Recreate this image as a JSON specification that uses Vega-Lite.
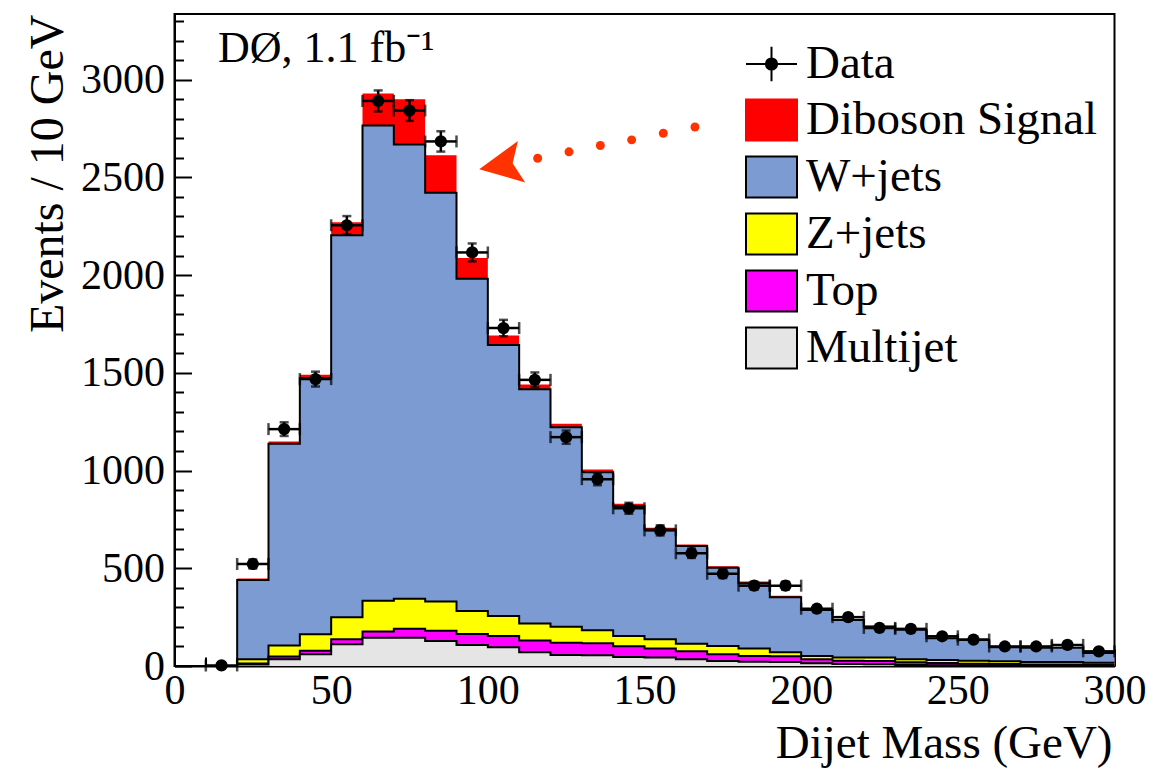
{
  "$schema": "https://vega.github.io/schema/vega-lite/v6.json",
  "width": 940,
  "height": 652,
  "autosize": "none",
  "padding": {"left": 174.5, "top": 14, "right": 58.5, "bottom": 103},
  "background": "white",
  "config": {
    "view": {"stroke": "black", "strokeWidth": 2},
    "font": "Liberation Serif"
  },
  "resolve": {"axis": {"x": "independent", "y": "independent"}},
  "datasets": {
    "hist": [
      {"o": 0, "x": 20, "sig": 0, "w": 0, "z": 0, "top": 0, "mj": 0},
      {"o": 1, "x": 20, "sig": 448, "w": 440, "z": 35, "top": 13, "mj": 8},
      {"o": 2, "x": 30, "sig": 1149, "w": 1137, "z": 105, "top": 48, "mj": 35},
      {"o": 3, "x": 40, "sig": 1490, "w": 1472, "z": 163, "top": 78, "mj": 60},
      {"o": 4, "x": 50, "sig": 2270, "w": 2204, "z": 250, "top": 137, "mj": 111},
      {"o": 5, "x": 60, "sig": 2929, "w": 2765, "z": 334, "top": 176, "mj": 145},
      {"o": 6, "x": 70, "sig": 2900, "w": 2668, "z": 344, "top": 190, "mj": 145},
      {"o": 7, "x": 80, "sig": 2613, "w": 2421, "z": 330, "top": 181, "mj": 128},
      {"o": 8, "x": 90, "sig": 2088, "w": 1982, "z": 282, "top": 164, "mj": 108},
      {"o": 9, "x": 100, "sig": 1691, "w": 1642, "z": 256, "top": 154, "mj": 96},
      {"o": 10, "x": 110, "sig": 1440, "w": 1416, "z": 218, "top": 130, "mj": 70},
      {"o": 11, "x": 120, "sig": 1239, "w": 1221, "z": 201, "top": 119, "mj": 56},
      {"o": 12, "x": 130, "sig": 1005, "w": 991, "z": 183, "top": 116, "mj": 55},
      {"o": 13, "x": 140, "sig": 830, "w": 819, "z": 154, "top": 101, "mj": 46},
      {"o": 14, "x": 150, "sig": 707, "w": 699, "z": 137, "top": 89, "mj": 43},
      {"o": 15, "x": 160, "sig": 622, "w": 614, "z": 114, "top": 75, "mj": 34},
      {"o": 16, "x": 170, "sig": 510, "w": 503, "z": 102, "top": 60, "mj": 26},
      {"o": 17, "x": 180, "sig": 432, "w": 424, "z": 89, "top": 51, "mj": 22},
      {"o": 18, "x": 190, "sig": 360, "w": 352, "z": 70, "top": 50, "mj": 20},
      {"o": 19, "x": 200, "sig": 291, "w": 287, "z": 51, "top": 34, "mj": 14},
      {"o": 20, "x": 210, "sig": 239, "w": 236, "z": 44, "top": 27, "mj": 10},
      {"o": 21, "x": 220, "sig": 206, "w": 202, "z": 43, "top": 26, "mj": 9},
      {"o": 22, "x": 230, "sig": 187, "w": 185, "z": 34, "top": 19, "mj": 5},
      {"o": 23, "x": 240, "sig": 144, "w": 142, "z": 31, "top": 15, "mj": 4},
      {"o": 24, "x": 250, "sig": 135, "w": 133, "z": 27, "top": 12, "mj": 4},
      {"o": 25, "x": 260, "sig": 98, "w": 96, "z": 24, "top": 10, "mj": 3},
      {"o": 26, "x": 270, "sig": 96, "w": 94, "z": 20, "top": 8, "mj": 3},
      {"o": 27, "x": 280, "sig": 96, "w": 94, "z": 20, "top": 8, "mj": 2},
      {"o": 28, "x": 290, "sig": 68, "w": 66, "z": 17, "top": 6, "mj": 2},
      {"o": 29, "x": 300, "sig": 68, "w": 66, "z": 17, "top": 6, "mj": 2}
    ],
    "pts": [
      {"xc": 15, "x0": 10, "x1": 20, "d": 3, "lo": 1, "hi": 5},
      {"xc": 25, "x0": 20, "x1": 30, "d": 522, "lo": 499, "hi": 545},
      {"xc": 35, "x0": 30, "x1": 40, "d": 1212, "lo": 1177, "hi": 1247},
      {"xc": 45, "x0": 40, "x1": 50, "d": 1468, "lo": 1430, "hi": 1506},
      {"xc": 55, "x0": 50, "x1": 60, "d": 2255, "lo": 2208, "hi": 2302},
      {"xc": 65, "x0": 60, "x1": 70, "d": 2891, "lo": 2837, "hi": 2945},
      {"xc": 75, "x0": 70, "x1": 80, "d": 2842, "lo": 2789, "hi": 2895},
      {"xc": 85, "x0": 80, "x1": 90, "d": 2684, "lo": 2632, "hi": 2736},
      {"xc": 95, "x0": 90, "x1": 100, "d": 2116, "lo": 2070, "hi": 2162},
      {"xc": 105, "x0": 100, "x1": 110, "d": 1729, "lo": 1687, "hi": 1771},
      {"xc": 115, "x0": 110, "x1": 120, "d": 1464, "lo": 1426, "hi": 1502},
      {"xc": 125, "x0": 120, "x1": 130, "d": 1171, "lo": 1137, "hi": 1205},
      {"xc": 135, "x0": 130, "x1": 140, "d": 956, "lo": 925, "hi": 987},
      {"xc": 145, "x0": 140, "x1": 150, "d": 807, "lo": 779, "hi": 835},
      {"xc": 155, "x0": 150, "x1": 160, "d": 694, "lo": 668, "hi": 720},
      {"xc": 165, "x0": 160, "x1": 170, "d": 577, "lo": 553, "hi": 601},
      {"xc": 175, "x0": 170, "x1": 180, "d": 472, "lo": 450, "hi": 494},
      {"xc": 185, "x0": 180, "x1": 190, "d": 411, "lo": 391, "hi": 431},
      {"xc": 195, "x0": 190, "x1": 200, "d": 411, "lo": 391, "hi": 431},
      {"xc": 205, "x0": 200, "x1": 210, "d": 293, "lo": 276, "hi": 310},
      {"xc": 215, "x0": 210, "x1": 220, "d": 250, "lo": 234, "hi": 266},
      {"xc": 225, "x0": 220, "x1": 230, "d": 195, "lo": 181, "hi": 209},
      {"xc": 235, "x0": 230, "x1": 240, "d": 190, "lo": 176, "hi": 204},
      {"xc": 245, "x0": 240, "x1": 250, "d": 152, "lo": 140, "hi": 164},
      {"xc": 255, "x0": 250, "x1": 260, "d": 135, "lo": 123, "hi": 147},
      {"xc": 265, "x0": 260, "x1": 270, "d": 100, "lo": 90, "hi": 110},
      {"xc": 275, "x0": 270, "x1": 280, "d": 100, "lo": 90, "hi": 110},
      {"xc": 285, "x0": 280, "x1": 290, "d": 108, "lo": 98, "hi": 118},
      {"xc": 295, "x0": 290, "x1": 300, "d": 75, "lo": 66, "hi": 84}
    ],
    "dots": [
      {"ax": 115.9, "ay": 2598},
      {"ax": 125.9, "ay": 2631},
      {"ax": 135.9, "ay": 2663},
      {"ax": 145.9, "ay": 2692},
      {"ax": 156.0, "ay": 2726},
      {"ax": 166.1, "ay": 2758}
    ],
    "head": [
      {"ax": 104.0, "ay": 2561}
    ],
    "label": [
      {"ax": 13.9, "ay": 3091, "t": "DØ, 1.1 fb⁻¹"}
    ]
  },
  "layer": [
    {
      "data": {"name": "hist"},
      "mark": {"type": "area", "interpolate": "step-after", "opacity": 1},
      "encoding": {
        "x": {
          "field": "x", "type": "quantitative", "title": "Dijet Mass (GeV)",
          "scale": {"domain": [0, 300], "nice": false, "zero": false},
          "axis": {
            "orient": "bottom",
            "values": [0, 50, 100, 150, 200, 250, 300],
            "format": "d",
            "tickSize": -17,
            "labelPadding": 21,
            "labelFontSize": 42,
            "labelFont": "Liberation Serif",
            "labelColor": "black",
            "labelFlush": false,
            "labelOverlap": false,
            "grid": false,
            "domainColor": "black",
            "domainWidth": 2,
            "tickColor": "black",
            "tickWidth": 2,
            "titleFont": "Liberation Serif",
            "titleFontSize": 47,
            "titleFontWeight": "normal",
            "titleColor": "black",
            "titleAnchor": "end",
            "titleAlign": "right",
            "titleBaseline": "alphabetic",
            "titleX": 937.5,
            "titleY": 91
          }
        },
        "y": {
          "field": "sig", "type": "quantitative", "stack": null, "title": "Events / 10 GeV",
          "scale": {"domain": [0, 3336], "nice": false},
          "axis": {
            "orient": "left",
            "values": [0, 500, 1000, 1500, 2000, 2500, 3000],
            "format": "d",
            "tickSize": -17,
            "labelPadding": 27,
            "labelFontSize": 42,
            "labelFont": "Liberation Serif",
            "labelColor": "black",
            "labelFlush": false,
            "labelOverlap": false,
            "grid": false,
            "domainColor": "black",
            "domainWidth": 2,
            "tickColor": "black",
            "tickWidth": 2,
            "titleFont": "Liberation Serif",
            "titleFontSize": 48,
            "titleFontWeight": "normal",
            "titleColor": "black",
            "titleAngle": -90,
            "titleAnchor": "end",
            "titleAlign": "right",
            "titleBaseline": "alphabetic",
            "titleX": -112,
            "titleY": 0
          }
        },
        "color": {
          "datum": "Diboson Signal", "type": "nominal",
          "scale": {
            "domain": ["Data", "Diboson Signal", "W+jets", "Z+jets", "Top", "Multijet"],
            "range": ["#000000", "#ff0000", "#7b9bd2", "#ffff00", "#ff00ff", "#e5e5e5"]
          },
          "legend": {
            "orient": "none",
            "legendX": 570.5,
            "legendY": 23.5,
            "title": null,
            "padding": 0,
            "symbolSize": 2601,
            "symbolStrokeWidth": 2,
            "symbolOpacity": 1,
            "labelFont": "Liberation Serif",
            "labelFontSize": 47,
            "labelColor": "black",
            "labelOffset": 8,
            "labelLimit": 0,
            "rowPadding": 6,
            "encode": {
              "symbols": {
                "update": {
                  "shape": {"signal": "datum.value === 'Data' ? 'M-1,0H1M0,-0.68V0.68M0.22,0A0.22,0.22 0 1 1 -0.22,0A0.22,0.22 0 1 1 0.22,0Z' : 'M-1,-0.8H1V0.8H-1Z'"},
                  "stroke": {"signal": "datum.value === 'Diboson Signal' ? '#ff0000' : '#000000'"},
                  "strokeWidth": {"value": 2},
                  "opacity": {"value": 1}
                }
              }
            }
          }
        }
      }
    },
    {
      "data": {"name": "hist"},
      "mark": {"type": "area", "interpolate": "step-after", "opacity": 1},
      "encoding": {
        "x": {"field": "x", "type": "quantitative", "axis": null},
        "y": {"field": "w", "type": "quantitative", "stack": null, "axis": null},
        "color": {"datum": "W+jets", "type": "nominal"}
      }
    },
    {
      "data": {"name": "hist"},
      "mark": {"type": "line", "interpolate": "step-after", "color": "black", "strokeWidth": 2},
      "encoding": {
        "x": {"field": "x", "type": "quantitative", "axis": null},
        "y": {"field": "w", "type": "quantitative", "axis": null},
        "order": {"field": "o", "type": "quantitative"}
      }
    },
    {
      "data": {"name": "hist"},
      "mark": {"type": "area", "interpolate": "step-after", "opacity": 1},
      "encoding": {
        "x": {"field": "x", "type": "quantitative", "axis": null},
        "y": {"field": "z", "type": "quantitative", "stack": null, "axis": null},
        "color": {"datum": "Z+jets", "type": "nominal"}
      }
    },
    {
      "data": {"name": "hist"},
      "mark": {"type": "line", "interpolate": "step-after", "color": "black", "strokeWidth": 2},
      "encoding": {
        "x": {"field": "x", "type": "quantitative", "axis": null},
        "y": {"field": "z", "type": "quantitative", "axis": null},
        "order": {"field": "o", "type": "quantitative"}
      }
    },
    {
      "data": {"name": "hist"},
      "mark": {"type": "area", "interpolate": "step-after", "opacity": 1},
      "encoding": {
        "x": {"field": "x", "type": "quantitative", "axis": null},
        "y": {"field": "top", "type": "quantitative", "stack": null, "axis": null},
        "color": {"datum": "Top", "type": "nominal"}
      }
    },
    {
      "data": {"name": "hist"},
      "mark": {"type": "line", "interpolate": "step-after", "color": "black", "strokeWidth": 2},
      "encoding": {
        "x": {"field": "x", "type": "quantitative", "axis": null},
        "y": {"field": "top", "type": "quantitative", "axis": null},
        "order": {"field": "o", "type": "quantitative"}
      }
    },
    {
      "data": {"name": "hist"},
      "mark": {"type": "area", "interpolate": "step-after", "opacity": 1},
      "encoding": {
        "x": {"field": "x", "type": "quantitative", "axis": null},
        "y": {"field": "mj", "type": "quantitative", "stack": null, "axis": null},
        "color": {"datum": "Multijet", "type": "nominal"}
      }
    },
    {
      "data": {"name": "hist"},
      "mark": {"type": "line", "interpolate": "step-after", "color": "black", "strokeWidth": 2},
      "encoding": {
        "x": {
          "field": "x", "type": "quantitative",
          "axis": {
            "orient": "bottom",
            "values": [10, 20, 30, 40, 60, 70, 80, 90, 110, 120, 130, 140, 160, 170, 180, 190, 210, 220, 230, 240, 260, 270, 280, 290],
            "tickSize": -9,
            "tickColor": "black",
            "tickWidth": 2,
            "labels": false,
            "domain": false,
            "grid": false,
            "title": null
          }
        },
        "y": {
          "field": "mj", "type": "quantitative",
          "axis": {
            "orient": "left",
            "values": [100, 200, 300, 400, 600, 700, 800, 900, 1100, 1200, 1300, 1400, 1600, 1700, 1800, 1900, 2100, 2200, 2300, 2400, 2600, 2700, 2800, 2900, 3100, 3200, 3300],
            "tickSize": -9,
            "tickColor": "black",
            "tickWidth": 2,
            "labels": false,
            "domain": false,
            "grid": false,
            "title": null
          }
        },
        "order": {"field": "o", "type": "quantitative"}
      }
    },
    {
      "data": {"name": "pts"},
      "mark": {"type": "errorbar", "color": "black", "thickness": 2.5, "ticks": {"size": 9, "thickness": 2.5}},
      "encoding": {
        "x": {"field": "xc", "type": "quantitative", "axis": null},
        "y": {"field": "lo", "type": "quantitative", "axis": null},
        "y2": {"field": "hi"}
      }
    },
    {
      "data": {"name": "pts"},
      "mark": {"type": "errorbar", "color": "black", "thickness": 2.5, "ticks": {"size": 12, "thickness": 2.5}},
      "encoding": {
        "y": {"field": "d", "type": "quantitative", "axis": null},
        "x": {"field": "x0", "type": "quantitative", "axis": null},
        "x2": {"field": "x1"}
      }
    },
    {
      "data": {"name": "pts"},
      "mark": {"type": "point", "filled": true, "size": 150, "opacity": 1, "shape": "circle"},
      "encoding": {
        "x": {"field": "xc", "type": "quantitative", "axis": null},
        "y": {"field": "d", "type": "quantitative", "axis": null},
        "color": {"datum": "Data", "type": "nominal"}
      }
    },
    {
      "data": {"name": "dots"},
      "mark": {"type": "point", "filled": true, "size": 80, "opacity": 1, "shape": "circle", "color": "#ff3300"},
      "encoding": {
        "x": {"field": "ax", "type": "quantitative", "axis": null},
        "y": {"field": "ay", "type": "quantitative", "axis": null}
      }
    },
    {
      "data": {"name": "head"},
      "mark": {"type": "point", "filled": true, "size": 1849, "opacity": 1, "angle": -10, "shape": "M-1,0L1,-0.98L0.58,0L1,0.98Z", "color": "#ff3300"},
      "encoding": {
        "x": {"field": "ax", "type": "quantitative", "axis": null},
        "y": {"field": "ay", "type": "quantitative", "axis": null}
      }
    },
    {
      "data": {"name": "label"},
      "mark": {"type": "text", "align": "left", "baseline": "alphabetic", "fontSize": 44, "font": "Liberation Serif", "color": "black"},
      "encoding": {
        "x": {"field": "ax", "type": "quantitative", "axis": null},
        "y": {"field": "ay", "type": "quantitative", "axis": null},
        "text": {"field": "t"}
      }
    }
  ]
}
